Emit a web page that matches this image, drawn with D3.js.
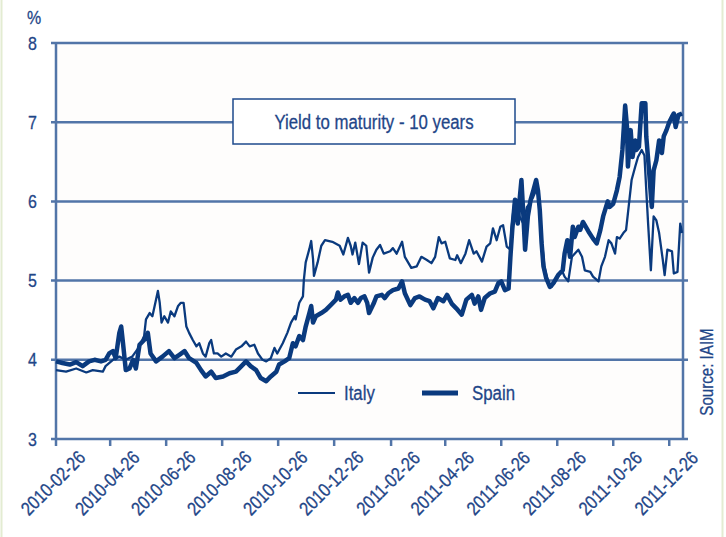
<!DOCTYPE html>
<html><head><meta charset="utf-8">
<script src="https://cdn.jsdelivr.net/npm/d3@7"></script>
<style>
html,body{margin:0;padding:0;background:#fff;}
svg{display:block;}
text{font-family:"Liberation Sans Narrow","Arial Narrow","Liberation Sans",Arial,sans-serif;fill:#1f4688;stroke:#1f4688;stroke-width:0.3px;}
</style></head>
<body>
<svg id="chart" width="726" height="537"></svg>
<script>
const yTicks = [3, 4, 5, 6, 7, 8];
const xTickLabels = ["2010-02-26","2010-04-26","2010-06-26","2010-08-26","2010-10-26","2010-12-26",
  "2011-02-26","2011-04-26","2011-06-26","2011-08-26","2011-10-26","2011-12-26"];
const xDomain = ["2010-02-26", "2012-01-10"];
const seriesNames = ["Italy", "Spain"];
const chartTitle = "Yield to maturity - 10 years";
const sourceText = "Source: IAIM";

const italyDates = ["2010-02-26","2010-03-09","2010-03-20","2010-03-31","2010-04-07","2010-04-18","2010-04-21","2010-04-29",
"2010-05-06","2010-05-13","2010-05-20","2010-05-28","2010-06-02","2010-06-04","2010-06-08","2010-06-11","2010-06-15",
"2010-06-17","2010-06-19","2010-06-21","2010-06-24","2010-06-28","2010-07-01","2010-07-05","2010-07-09","2010-07-12",
"2010-07-15","2010-07-18","2010-07-21","2010-07-25","2010-07-29","2010-08-01","2010-08-05","2010-08-08","2010-08-12",
"2010-08-14","2010-08-17","2010-08-21","2010-08-25","2010-08-30","2010-09-05","2010-09-10","2010-09-16","2010-09-21",
"2010-09-25","2010-09-30","2010-10-04","2010-10-09","2010-10-13","2010-10-18","2010-10-22","2010-10-25","2010-10-31",
"2010-11-05","2010-11-09","2010-11-13","2010-11-14","2010-11-18","2010-11-22","2010-11-23","2010-11-25","2010-11-29",
"2010-12-01","2010-12-03","2010-12-04","2010-12-08","2010-12-12","2010-12-16","2010-12-24","2011-01-01","2011-01-05",
"2011-01-10","2011-01-13","2011-01-15","2011-01-18","2011-01-22","2011-01-26","2011-01-30","2011-02-02","2011-02-06",
"2011-02-10","2011-02-14","2011-02-18","2011-02-25","2011-02-28","2011-03-04","2011-03-10","2011-03-13","2011-03-17",
"2011-03-20","2011-03-26","2011-03-31","2011-04-06","2011-04-11","2011-04-15","2011-04-19","2011-04-22","2011-04-26",
"2011-05-01","2011-05-07","2011-05-09","2011-05-13","2011-05-18","2011-05-22","2011-05-27","2011-05-30","2011-06-05",
"2011-06-10","2011-06-14","2011-06-17","2011-06-21","2011-06-25","2011-06-28","2011-07-02","2011-07-06","2011-07-07",
"2011-07-10","2011-07-13","2011-07-16","2011-07-20","2011-07-24","2011-07-27","2011-07-31","2011-08-03","2011-08-05",
"2011-08-07","2011-08-09","2011-08-12","2011-08-16","2011-08-20","2011-08-25","2011-08-31","2011-09-03","2011-09-07",
"2011-09-11","2011-09-14","2011-09-18","2011-09-22","2011-09-25","2011-10-01","2011-10-04","2011-10-10","2011-10-13",
"2011-10-17","2011-10-21","2011-10-24","2011-10-28","2011-10-30","2011-11-02","2011-11-06","2011-11-09","2011-11-11",
"2011-11-15","2011-11-19","2011-11-22","2011-11-26","2011-11-29","2011-12-01","2011-12-03","2011-12-06","2011-12-09",
"2011-12-12","2011-12-15","2011-12-19","2011-12-21","2011-12-24","2011-12-29","2011-12-31","2012-01-04","2012-01-07",
"2012-01-09"];
const italyValues = [3.87,3.85,3.89,3.84,3.87,3.85,3.92,4.00,
4.04,4.00,4.04,4.17,4.30,4.51,4.59,4.55,4.76,
4.87,4.72,4.47,4.55,4.47,4.61,4.55,4.68,4.72,
4.72,4.42,4.34,4.25,4.17,4.21,4.08,4.04,4.21,
4.25,4.08,4.08,4.04,4.08,4.04,4.13,4.17,4.23,
4.17,4.19,4.08,4.00,3.98,4.02,4.15,4.08,4.21,
4.34,4.47,4.55,4.51,4.72,4.80,5.01,5.23,5.40,
5.50,5.27,5.06,5.23,5.44,5.51,5.49,5.44,5.33,
5.54,5.44,5.33,5.48,5.21,5.48,5.44,5.10,5.29,
5.39,5.45,5.34,5.37,5.41,5.34,5.49,5.30,5.22,
5.16,5.18,5.30,5.26,5.22,5.30,5.55,5.47,5.49,
5.28,5.26,5.32,5.22,5.34,5.51,5.34,5.37,5.24,
5.43,5.47,5.66,5.51,5.68,5.70,5.43,5.39,5.64,
5.97,6.02,5.81,5.72,5.93,5.97,6.06,6.14,6.10,
5.93,5.55,5.18,4.97,4.92,5.01,5.13,5.05,4.99,
5.30,5.34,5.39,5.30,5.13,5.11,5.05,4.99,5.18,
5.30,5.51,5.47,5.34,5.55,5.53,5.60,5.64,5.85,
6.27,6.44,6.56,6.65,6.58,6.14,5.72,5.13,5.81,
5.76,5.60,5.26,5.07,5.39,5.37,5.09,5.11,5.72,
5.60];

const spainDates = ["2010-02-26","2010-03-05","2010-03-13","2010-03-20","2010-03-27","2010-04-03","2010-04-09","2010-04-16",
"2010-04-21","2010-04-25","2010-04-29","2010-05-02","2010-05-06","2010-05-08","2010-05-10","2010-05-13","2010-05-17",
"2010-05-21","2010-05-24","2010-05-28","2010-06-02","2010-06-06","2010-06-09","2010-06-15","2010-06-22","2010-06-29",
"2010-07-05","2010-07-10","2010-07-16","2010-07-21","2010-07-29","2010-08-03","2010-08-08","2010-08-14","2010-08-19",
"2010-08-27","2010-09-03","2010-09-10","2010-09-16","2010-09-21","2010-09-26","2010-10-02","2010-10-07","2010-10-13",
"2010-10-18","2010-10-24","2010-10-27","2010-11-02","2010-11-07","2010-11-11","2010-11-14","2010-11-18","2010-11-22",
"2010-11-25","2010-11-29","2010-12-01","2010-12-03","2010-12-06","2010-12-12","2010-12-17","2010-12-23","2010-12-28",
"2010-12-30","2011-01-02","2011-01-06","2011-01-10","2011-01-13","2011-01-17","2011-01-21","2011-01-24","2011-01-28",
"2011-01-31","2011-02-02","2011-02-07","2011-02-10","2011-02-16","2011-02-19","2011-02-23","2011-02-28","2011-03-06",
"2011-03-10","2011-03-13","2011-03-19","2011-03-24","2011-03-29","2011-04-04","2011-04-09","2011-04-13","2011-04-18",
"2011-04-24","2011-04-28","2011-05-03","2011-05-08","2011-05-14","2011-05-19","2011-05-25","2011-05-28","2011-06-01",
"2011-06-04","2011-06-08","2011-06-14","2011-06-19","2011-06-23","2011-06-26","2011-06-30","2011-07-04","2011-07-06",
"2011-07-08","2011-07-11","2011-07-14","2011-07-16","2011-07-18","2011-07-20","2011-07-22","2011-07-25","2011-07-28",
"2011-07-31","2011-08-03","2011-08-05","2011-08-07","2011-08-09","2011-08-11","2011-08-14","2011-08-18","2011-08-22",
"2011-08-27","2011-09-01","2011-09-03","2011-09-06","2011-09-09","2011-09-12","2011-09-14","2011-09-18","2011-09-20",
"2011-09-23","2011-09-29","2011-10-04","2011-10-08","2011-10-12","2011-10-15","2011-10-20","2011-10-22","2011-10-26",
"2011-10-30","2011-11-02","2011-11-05","2011-11-08","2011-11-10","2011-11-11","2011-11-14","2011-11-16","2011-11-19",
"2011-11-20","2011-11-23","2011-11-26","2011-11-30","2011-12-01","2011-12-04","2011-12-07","2011-12-09","2011-12-12",
"2011-12-15","2011-12-18","2011-12-20","2011-12-23","2011-12-26","2011-12-29","2011-12-31","2012-01-02","2012-01-05",
"2012-01-09"];
const spainValues = [3.98,3.96,3.94,3.97,3.92,3.98,4.00,3.98,
4.00,4.08,4.11,4.02,4.34,4.42,4.21,3.87,3.89,
4.00,3.89,4.19,4.25,4.34,4.08,3.98,4.04,4.11,
4.02,4.06,4.11,4.02,3.96,3.87,3.79,3.85,3.77,
3.79,3.83,3.85,3.92,3.98,3.92,3.87,3.77,3.73,
3.79,3.85,3.94,3.98,4.02,4.21,4.17,4.30,4.25,
4.42,4.59,4.68,4.47,4.55,4.59,4.63,4.70,4.76,
4.85,4.76,4.80,4.82,4.72,4.78,4.72,4.78,4.80,
4.72,4.59,4.71,4.80,4.82,4.78,4.84,4.88,4.90,
4.99,4.84,4.69,4.78,4.80,4.76,4.74,4.65,4.78,
4.74,4.82,4.71,4.65,4.57,4.76,4.82,4.71,4.80,
4.63,4.78,4.84,4.86,4.97,4.99,4.88,4.90,5.30,
5.64,6.02,5.72,6.02,6.27,5.85,5.39,5.81,6.02,
6.14,6.27,6.14,5.89,5.47,5.18,5.03,4.92,4.97,
5.07,5.13,5.34,5.51,5.30,5.68,5.55,5.68,5.64,
5.74,5.62,5.53,5.47,5.64,5.81,6.00,5.93,5.97,
6.14,6.31,6.65,7.21,6.94,6.44,6.90,6.56,6.77,
6.65,6.69,7.24,7.24,6.82,6.39,5.93,6.39,6.52,
6.77,6.61,6.82,6.90,7.00,7.07,7.11,6.94,7.09,
7.11];

const parse = d3.timeParse("%Y-%m-%d");
const svg = d3.select("#chart");
const ink = "#0a3a7e", grid = "#5275a8";

const x = d3.scaleTime().domain(xDomain.map(parse)).range([56, 683]);
const y = d3.scaleLinear().domain([3, 8]).range([439, 43]);

// side borders
svg.append("line").attr("x1",1.5).attr("x2",1.5).attr("y1",0).attr("y2",537).attr("stroke","#e3ecd2").attr("stroke-width",2);
svg.append("line").attr("x1",722.5).attr("x2",722.5).attr("y1",0).attr("y2",537).attr("stroke","#e3ecd2").attr("stroke-width",2);

// plot background
svg.append("rect").attr("x",x.range()[0]).attr("y",y(8)).attr("width",x.range()[1]-x.range()[0]).attr("height",y(3)-y(8)).attr("fill","#fefdfc");

// horizontal gridlines
svg.append("g").selectAll("line").data(yTicks).join("line")
  .attr("x1", x.range()[0]-5).attr("x2", x.range()[1]+5)
  .attr("y1", d=>y(d)).attr("y2", d=>y(d))
  .attr("stroke", grid).attr("stroke-width", 2.5);

// vertical axes
[x.range()[0], x.range()[1]].forEach(px => {
  svg.append("line").attr("x1",px).attr("x2",px).attr("y1",y(8)).attr("y2",y(3))
    .attr("stroke",grid).attr("stroke-width",2.5);
});

// x ticks
svg.append("g").selectAll("line").data(xTickLabels).join("line")
  .attr("x1", d=>x(parse(d))).attr("x2", d=>x(parse(d)))
  .attr("y1", y(3)).attr("y2", y(3)+7)
  .attr("stroke", grid).attr("stroke-width", 2.5);

// y labels
svg.append("g").selectAll("text").data(yTicks).join("text")
  .attr("x", 37).attr("y", d=>y(d)).attr("dy","0.35em")
  .attr("text-anchor","end").style("font-size","19px").text(d=>d);
svg.append("text").attr("x",34).attr("y",24).attr("text-anchor","middle").style("font-size","19px").text("%");

// x labels
svg.append("g").selectAll("text").data(xTickLabels).join("text")
  .attr("transform", d=>`translate(${x(parse(d))-3},483) rotate(-45)`)
  .attr("text-anchor","middle").attr("dy","0.35em").style("font-size","19px").text(d=>d);

// lines
const line = d3.line().x(d=>x(d[0])).y(d=>y(d[1])).curve(d3.curveLinear);
const italy = italyDates.map((d,i)=>[parse(d), italyValues[i]]);
const spain = spainDates.map((d,i)=>[parse(d), spainValues[i]]);
svg.append("path").datum(italy).attr("d",line).attr("fill","none").attr("stroke",ink).attr("stroke-width",2.3).attr("stroke-linejoin","round");
svg.append("path").datum(spain).attr("d",line).attr("fill","none").attr("stroke",ink).attr("stroke-width",4.5).attr("stroke-linejoin","round");

// title box
svg.append("rect").attr("x",233).attr("y",99).attr("width",282).attr("height",45)
  .attr("fill","#fff").attr("stroke","#1e4a8c").attr("stroke-width",1.5);
svg.append("text").attr("x",374).attr("y",121.5).attr("dy","0.35em").attr("text-anchor","middle")
  .style("font-size","20px").text(chartTitle);

// legend
svg.append("line").attr("x1",298).attr("x2",335).attr("y1",393).attr("y2",393).attr("stroke",ink).attr("stroke-width",2);
svg.append("text").attr("x",344).attr("y",393).attr("dy","0.35em").style("font-size","20px").text(seriesNames[0]);
svg.append("line").attr("x1",422).attr("x2",458).attr("y1",393).attr("y2",393).attr("stroke",ink).attr("stroke-width",5);
svg.append("text").attr("x",472).attr("y",393).attr("dy","0.35em").style("font-size","20px").text(seriesNames[1]);

// source
svg.append("text").attr("transform","translate(707,372) rotate(-90)").attr("text-anchor","middle")
  .attr("dy","0.35em").style("font-size","18px").text(sourceText);

// condense text (narrow face substitute)
svg.selectAll("text").each(function(){
  const L = this.getComputedTextLength();
  if (L > 0) d3.select(this).attr("textLength", (L*0.84).toFixed(1)).attr("lengthAdjust","spacingAndGlyphs");
});
</script>
</body></html>
